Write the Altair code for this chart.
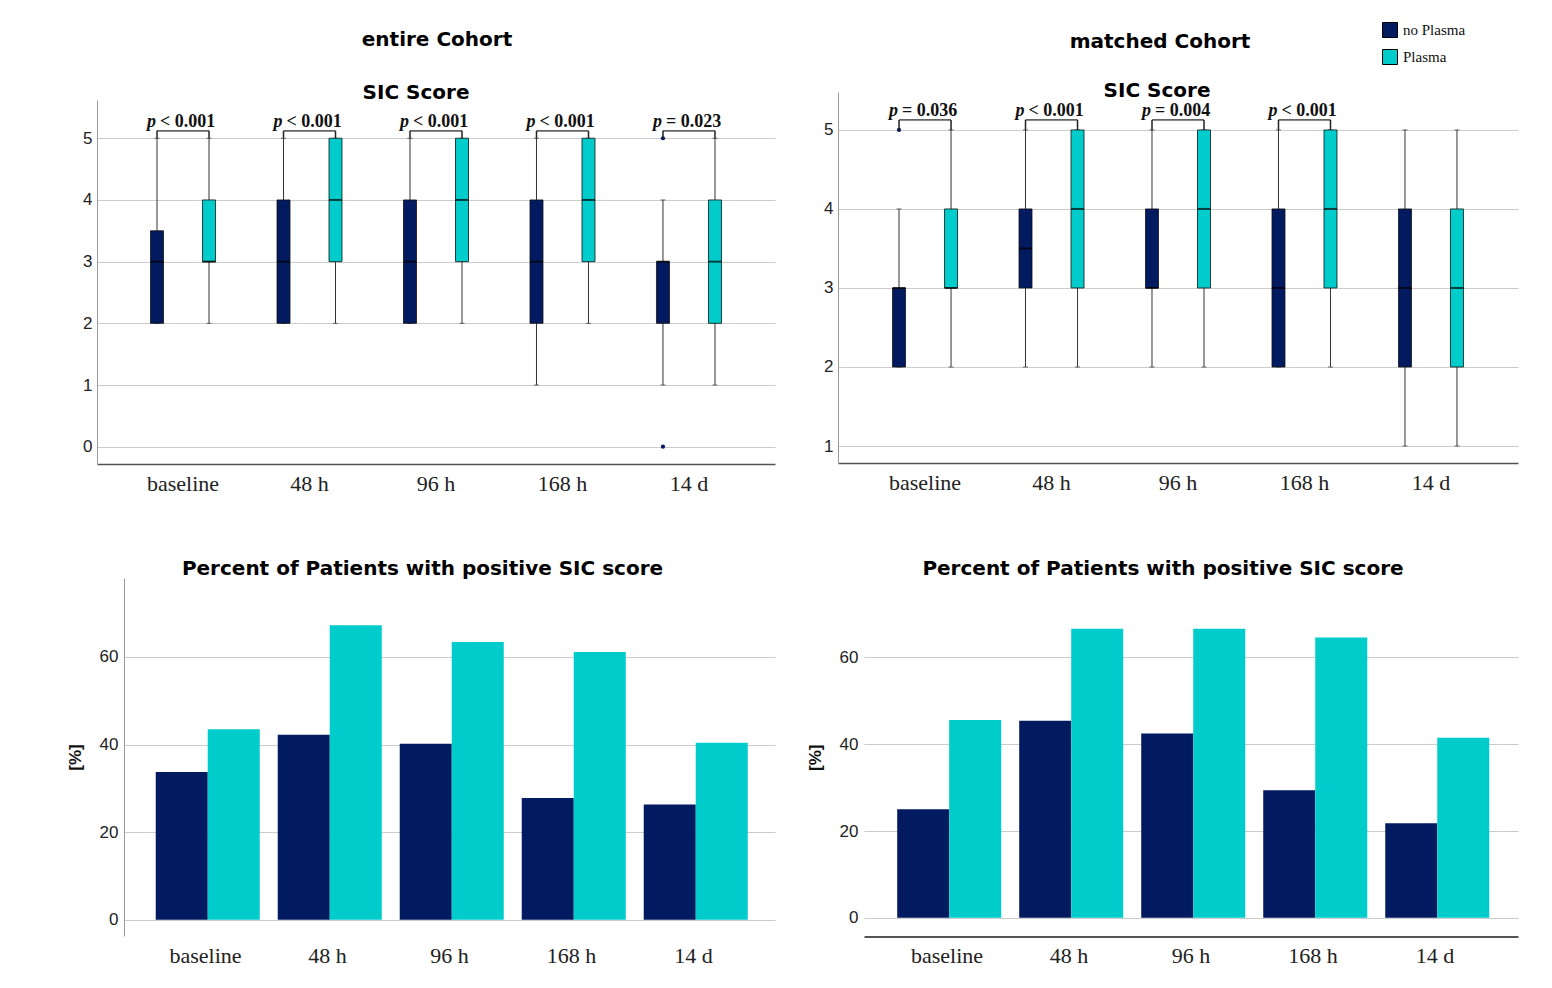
import altair as alt
import pandas as pd

times = ["baseline", "48 h", "96 h", "168 h", "14 d"]
groups = ["no Plasma", "Plasma"]
NAVY = "#021a5f"
CYAN = "#00cccc"

# ---- entire cohort, SIC score box statistics ----
ent_np_lo = [2, 2, 2, 1, 1]
ent_np_q1 = [2, 2, 2, 2, 2]
ent_np_med = [3, 3, 3, 3, 3]
ent_np_q3 = [3.5, 4, 4, 4, 3]
ent_np_hi = [5, 5, 5, 5, 4]
ent_p_lo = [2, 2, 2, 2, 1]
ent_p_q1 = [3, 3, 3, 3, 2]
ent_p_med = [3, 4, 4, 4, 3]
ent_p_q3 = [4, 5, 5, 5, 4]
ent_p_hi = [5, 5, 5, 5, 5]
ent_out_time = ["14 d", "14 d"]
ent_out_group = ["no Plasma", "no Plasma"]
ent_out_val = [5, 0]
ent_pv_time = ["baseline", "48 h", "96 h", "168 h", "14 d"]
ent_pv_op = ["<", "<", "<", "<", "="]
ent_pv_num = ["0.001", "0.001", "0.001", "0.001", "0.023"]

# ---- matched cohort, SIC score box statistics ----
mat_np_lo = [2, 2, 2, 2, 1]
mat_np_q1 = [2, 3, 3, 2, 2]
mat_np_med = [3, 3.5, 3, 3, 3]
mat_np_q3 = [3, 4, 4, 4, 4]
mat_np_hi = [4, 5, 5, 5, 5]
mat_p_lo = [2, 2, 2, 2, 1]
mat_p_q1 = [3, 3, 3, 3, 2]
mat_p_med = [3, 4, 4, 4, 3]
mat_p_q3 = [4, 5, 5, 5, 4]
mat_p_hi = [5, 5, 5, 5, 5]
mat_out_time = ["baseline"]
mat_out_group = ["no Plasma"]
mat_out_val = [5]
mat_pv_time = ["baseline", "48 h", "96 h", "168 h"]
mat_pv_op = ["=", "<", "=", "<"]
mat_pv_num = ["0.036", "0.001", "0.004", "0.001"]

# ---- percent of patients with positive SIC score ----
ent_pct_np = [33.7, 42.2, 40.2, 27.8, 26.3]
ent_pct_p = [43.5, 67.2, 63.4, 61.1, 40.4]
mat_pct_np = [25.0, 45.4, 42.5, 29.4, 21.8]
mat_pct_p = [45.6, 66.6, 66.6, 64.6, 41.5]

TITLE_FONT = "DejaVu Sans"
SANS = "Liberation Sans"
SERIF = "Liberation Serif"

color_enc = alt.Color("group:N", scale=alt.Scale(domain=groups, range=[NAVY, CYAN]),
                      legend=alt.Legend(title=None))


def stats_df(npl, pl):
    rows = []
    for g, lists in zip(groups, [npl, pl]):
        lo, q1, med, q3, hi = lists
        for i, t in enumerate(times):
            rows.append(dict(time=t, group=g, lo=lo[i], q1=q1[i], med=med[i], q3=q3[i], hi=hi[i]))
    return pd.DataFrame(rows)


def box_panel(npl, pl, out_t, out_g, out_v, pv_t, pv_op, pv_num, ydom, yvals,
              width, height, po, ext, br_y, tx_y, title_offset, title_dx):
    st = stats_df(npl, pl)
    out = pd.DataFrame(dict(time=out_t, group=out_g, val=out_v))
    pv = pd.DataFrame(dict(time=pv_t, label=[o + " " + n for o, n in zip(pv_op, pv_num)]))
    legs = pd.DataFrame([dict(time=t, group=g) for t in pv_t for g in groups])

    xe = alt.X("time:N", sort=times,
               scale=alt.Scale(paddingInner=0, paddingOuter=po),
               axis=alt.Axis(labelAngle=0, labelFont=SERIF, labelFontSize=22, labelColor="#222",
                             ticks=False, domain=True, domainColor="#555", domainWidth=1.5,
                             labelPadding=9, title=None, grid=False))
    xo = alt.XOffset("group:N", sort=groups, scale=alt.Scale(paddingInner=0, paddingOuter=0.216))
    ysc = alt.Scale(domain=ydom, nice=False, zero=False)
    yax = alt.Axis(values=yvals, format="d", grid=True, gridColor="#cccccc", domain=True,
                   domainColor="#999999", ticks=False, labelFont=SANS, labelFontSize=17,
                   labelColor="#222", labelPadding=5, minExtent=ext, maxExtent=ext, title=None)

    base = alt.Chart(st).encode(x=xe, xOffset=xo)
    whisk = base.mark_rule(color="#333", strokeWidth=1).encode(
        y=alt.Y("lo:Q", scale=ysc, axis=yax), y2="hi:Q")
    cap_lo = base.mark_tick(orient="horizontal", size=5, thickness=1, color="#333").encode(
        y=alt.Y("lo:Q", scale=ysc))
    cap_hi = base.mark_tick(orient="horizontal", size=5, thickness=1, color="#333").encode(
        y=alt.Y("hi:Q", scale=ysc))
    box = base.mark_bar(size=13, stroke="#111", strokeWidth=0.8).encode(
        y=alt.Y("q1:Q", scale=ysc), y2="q3:Q", color=color_enc)
    med = base.mark_tick(orient="horizontal", size=13, thickness=2, color="black").encode(
        y=alt.Y("med:Q", scale=ysc))
    outl = alt.Chart(out).mark_circle(size=18, color=NAVY, opacity=1).encode(
        x=xe, xOffset=xo, y=alt.Y("val:Q", scale=ysc))
    leg = alt.Chart(legs).mark_rule(color="#222", strokeWidth=1.5).encode(
        x=xe, xOffset=xo, y=alt.datum(5.0), y2=alt.datum(br_y))
    bar_h = alt.Chart(pv).mark_tick(orient="horizontal", size=52, thickness=1.8, color="#222").encode(
        x=xe, y=alt.datum(br_y))
    ptxt = alt.Chart(pv).mark_text(text="p", align="right", dx=-27, baseline="alphabetic", font=SERIF,
                                   fontStyle="italic", fontWeight="bold", fontSize=18, color="#111").encode(
        x=xe, y=alt.datum(tx_y))
    rtxt = alt.Chart(pv).mark_text(align="left", dx=-23, baseline="alphabetic", font=SERIF,
                                   fontWeight="bold", fontSize=18, color="#111").encode(
        x=xe, y=alt.datum(tx_y), text="label:N")
    return alt.layer(whisk, cap_lo, cap_hi, box, med, outl, leg, bar_h, ptxt, rtxt).properties(
        width=width, height=height,
        title=alt.TitleParams("SIC Score", font=TITLE_FONT, fontSize=20, fontWeight="bold", color="#000",
                              dx=title_dx, offset=title_offset, frame="group", anchor="middle"))


def bar_panel(pnp, pp, width, height, po, ydom, xdomain_line, ydomain_line, title_offset, title_dx):
    rows = []
    for g, vals in zip(groups, [pnp, pp]):
        for t, v in zip(times, vals):
            rows.append(dict(time=t, group=g, pct=v))
    df = pd.DataFrame(rows)
    xe = alt.X("time:N", sort=times,
               scale=alt.Scale(paddingInner=0, paddingOuter=po),
               axis=alt.Axis(labelAngle=0, labelFont=SERIF, labelFontSize=22, labelColor="#222",
                             ticks=False, domain=xdomain_line, domainColor="#555", domainWidth=2,
                             labelPadding=9, title=None, grid=False))
    xo = alt.XOffset("group:N", sort=groups, scale=alt.Scale(paddingInner=0, paddingOuter=0.22))
    ye = alt.Y("pct:Q", scale=alt.Scale(domain=ydom, nice=False, zero=False),
               axis=alt.Axis(values=[0, 20, 40, 60], format="d", grid=True, gridColor="#cccccc",
                             domain=ydomain_line, domainColor="#999999", ticks=False,
                             labelFont=SANS, labelFontSize=17, labelColor="#222", labelPadding=6,
                             minExtent=26, maxExtent=26, title="[%]", titleFont=SANS,
                             titleFontSize=17, titleFontWeight="bold", titleColor="#111",
                             titlePadding=14))
    return alt.Chart(df).mark_bar().encode(
        x=xe, xOffset=xo, y=ye, y2=alt.datum(0), color=color_enc).properties(
        width=width, height=height,
        title=alt.TitleParams("Percent of Patients with positive SIC score", font=TITLE_FONT, fontSize=20,
                              fontWeight="bold", color="#000", dx=title_dx, offset=title_offset,
                              frame="group", anchor="middle"))


def spacer(w, h=1):
    return alt.Chart(pd.DataFrame({"s": [0]})).mark_point(
        size=0, opacity=0, filled=True, strokeWidth=0).encode(
        x=alt.value(0.5), y=alt.value(0.5)).properties(width=w, height=h)


tl_inner = box_panel([ent_np_lo, ent_np_q1, ent_np_med, ent_np_q3, ent_np_hi],
                     [ent_p_lo, ent_p_q1, ent_p_med, ent_p_q3, ent_p_hi],
                     ent_out_time, ent_out_group, ent_out_val,
                     ent_pv_time, ent_pv_op, ent_pv_num,
                     [-0.28, 5.62], [0, 1, 2, 3, 4, 5], 678, 364, 0.18, 30, 5.12, 5.19, -3, -20)
tr_inner = box_panel([mat_np_lo, mat_np_q1, mat_np_med, mat_np_q3, mat_np_hi],
                     [mat_p_lo, mat_p_q1, mat_p_med, mat_p_q3, mat_p_hi],
                     mat_out_time, mat_out_group, mat_out_val,
                     mat_pv_time, mat_pv_op, mat_pv_num,
                     [0.785, 5.48], [1, 2, 3, 4, 5], 680, 371, 0.188, 20, 5.127, 5.17, -9, -21)

tl = alt.vconcat(spacer(1, 3), tl_inner, spacing=0,
                 title=alt.TitleParams("entire Cohort", font=TITLE_FONT, fontSize=20,
                                       fontWeight="bold", color="#000", dx=16, offset=30,
                                       anchor="middle"))
tr = alt.vconcat(spacer(1, 1), tr_inner, spacing=0,
                 title=alt.TitleParams("matched Cohort", font=TITLE_FONT, fontSize=20,
                                       fontWeight="bold", color="#000", dx=-8, offset=28,
                                       anchor="middle"))

bl = bar_panel(ent_pct_np, ent_pct_p, 651, 358, 0.168, [-3.7, 78], False, True, -1, -27)
br = bar_panel(mat_pct_np, mat_pct_p, 654, 358.5, 0.18, [-4.3, 78.3], True, False, -1, -28)

top = alt.concat(spacer(11), tl, tr, columns=3, align="none", spacing=43)
bottom = alt.concat(spacer(22), bl, br, columns=3, align="none", spacing=31)

chart = alt.concat(top, bottom, columns=1, align="none", spacing=65).properties(
    padding={"left": 5, "top": 14, "right": 5, "bottom": 5}
).configure_view(stroke=None).configure_legend(
    orient="none", legendX=1369, legendY=-58, symbolType="square", symbolSize=225,
    symbolStrokeColor="black", symbolStrokeWidth=1, labelFont=SERIF, labelFontSize=15,
    labelColor="#111", rowPadding=7, labelOffset=5, padding=0
).configure_title(color="#000")

chart.save("out.html", embed_options={"renderer": "svg", "actions": False})
